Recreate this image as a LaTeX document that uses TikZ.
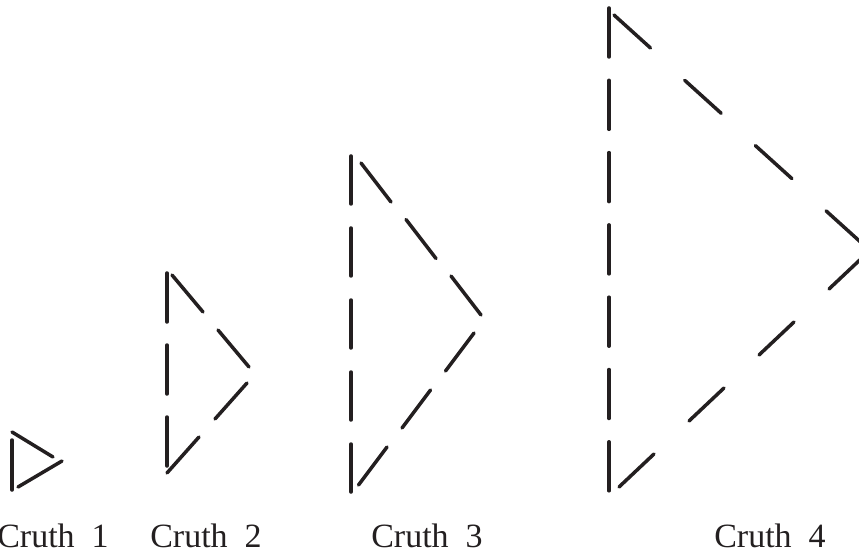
\documentclass[tikz,border=0pt]{standalone}
\usepackage{fontspec}
\setmainfont{Liberation Serif}
\definecolor{ink}{RGB}{35,31,32}
\begin{document}
\begin{tikzpicture}[x=1pt,y=-1pt,
  stick/.style={line width=3.5pt, line cap=round, draw=ink},
  lab/.style={font=\fontsize{34}{36}\selectfont, text=ink, anchor=base, inner sep=0pt}]
\useasboundingbox (0,0) rectangle (859,553);

% Cruth 1
\draw[stick] (12,440) -- (12,490);
\draw[stick] (12,432) -- (53,457);
\draw[stick] (62,461) -- (18,487);

% Cruth 2
\foreach \i in {0,1,2} \draw[stick] (167,273+72*\i) -- ++(0,49);
\foreach \i in {0,1} \draw[stick] (172+46*\i,275+55*\i) -- ++(31,37);
\foreach \i in {0,1} \draw[stick] (247-48*\i,383+54*\i) -- ++(-32,36);

% Cruth 3
\foreach \i in {0,...,4} \draw[stick] (351,156+72*\i) -- ++(0,48);
\foreach \i in {0,1,2} \draw[stick] (361+45*\i,163+56.5*\i) -- ++(30,39);
\foreach \i in {0,1,2} \draw[stick] (474-43.5*\i,333+57*\i) -- ++(-28.5,38);

% Cruth 4
\foreach \i in {0,...,6} \draw[stick] (609,8+72.3*\i) -- ++(0,49);
\foreach \i in {0,...,3} \draw[stick] (614+70.7*\i,15+65.3*\i) -- ++(36.5,33);
\foreach \i in {0,...,3} \draw[stick] (864-70*\i,256+66*\i) -- ++(-35,33);

% labels
\node[lab] (l1) at (53,547) {Cruth\ \ 1};
\node[lab] (l2) at (206,547) {Cruth\ \ 2};
\node[lab] (l3) at (427,547) {Cruth\ \ 3};
\node[lab] (l4) at (770,547) {Cruth\ \ 4};
\end{tikzpicture}
\end{document}
